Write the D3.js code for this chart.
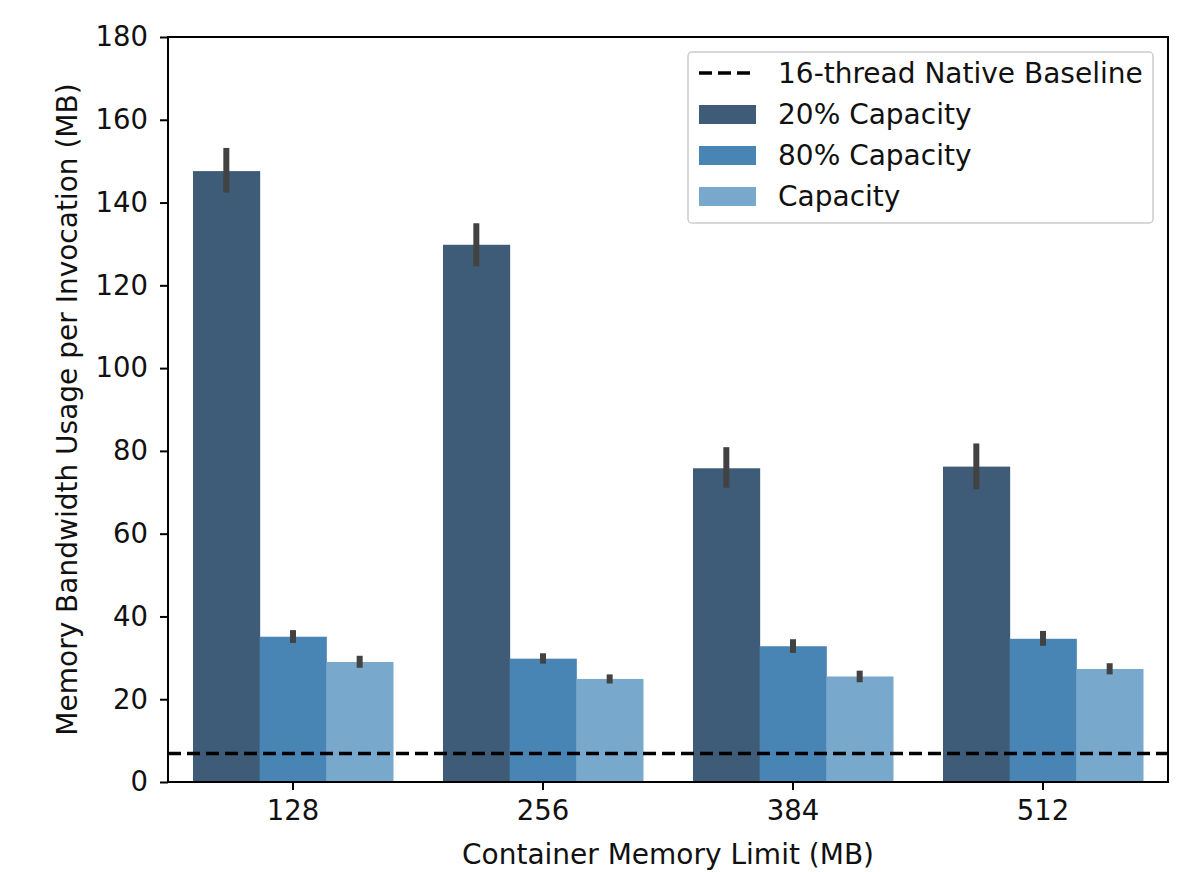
<!DOCTYPE html>
<html lang="en">
  <head>
    <meta charset="UTF-8" />
    <title>Memory Bandwidth Usage</title>
    <script src="https://d3js.org/d3.v7.min.js"></script>
    <style>
      body { margin: 0; background: #fff; font-family: "DejaVu Sans", sans-serif; }
      text { fill: #111; }
    </style>
  </head>
  <body>
    <div id="chart"></div>
    <script>
      const categories = ["128", "256", "384", "512"];
      const seriesNames = ["20% Capacity", "80% Capacity", "Capacity"];
      const seriesColors = ["#3e5c77", "#4885b5", "#79a8cd"];
      // mean values per category, one array per series
      const cap20 = [147.6, 129.8, 75.8, 76.2];
      const cap80 = [35.1, 29.8, 32.8, 34.6];
      const capFull = [29.0, 24.9, 25.5, 27.3];
      // error bar low/high
      const cap20Lo = [142.4, 124.6, 71.1, 70.7];
      const cap20Hi = [153.2, 135.0, 80.9, 81.8];
      const cap80Lo = [33.6, 28.6, 31.2, 32.9];
      const cap80Hi = [36.7, 31.1, 34.5, 36.5];
      const capFullLo = [27.6, 23.8, 24.1, 26.0];
      const capFullHi = [30.5, 26.0, 26.9, 28.7];
      const baseline = 6.9;
      const yTicks = [0, 20, 40, 60, 80, 100, 120, 140, 160, 180];

      const width = 1194, height = 872;
      const margin = { left: 168, right: 26, top: 37, bottom: 90 };
      const fs = 27.5;

      const svg = d3.select("#chart").append("svg")
        .attr("width", width).attr("height", height);

      const x = d3.scaleBand().domain(categories)
        .range([margin.left, width - margin.right]).padding(0);
      const xInner = d3.scaleBand().domain(seriesNames)
        .range([0, x.bandwidth()]).paddingInner(0).paddingOuter(0.375);
      const y = d3.scaleLinear().domain([0, 180])
        .range([height - margin.bottom, margin.top]);

      const series = [
        { name: seriesNames[0], vals: cap20, lo: cap20Lo, hi: cap20Hi, color: seriesColors[0] },
        { name: seriesNames[1], vals: cap80, lo: cap80Lo, hi: cap80Hi, color: seriesColors[1] },
        { name: seriesNames[2], vals: capFull, lo: capFullLo, hi: capFullHi, color: seriesColors[2] }
      ];

      const rows = [];
      series.forEach((s) => {
        categories.forEach((c, i) => {
          rows.push({ cat: c, name: s.name, v: s.vals[i], lo: s.lo[i], hi: s.hi[i], color: s.color });
        });
      });

      svg.append("g").selectAll("rect").data(rows).join("rect")
        .attr("x", (d) => x(d.cat) + xInner(d.name))
        .attr("width", xInner.bandwidth() + 0.5)
        .attr("y", (d) => y(d.v))
        .attr("height", (d) => y(0) - y(d.v))
        .attr("fill", (d) => d.color);

      svg.append("g").selectAll("line").data(rows).join("line")
        .attr("x1", (d) => x(d.cat) + xInner(d.name) + xInner.bandwidth() / 2)
        .attr("x2", (d) => x(d.cat) + xInner(d.name) + xInner.bandwidth() / 2)
        .attr("y1", (d) => y(d.lo))
        .attr("y2", (d) => y(d.hi))
        .attr("stroke", "#424242")
        .attr("stroke-width", 6);

      // baseline
      svg.append("line")
        .attr("x1", margin.left).attr("x2", width - margin.right)
        .attr("y1", y(baseline)).attr("y2", y(baseline))
        .attr("stroke", "#000").attr("stroke-width", 3.5)
        .attr("stroke-dasharray", "13,6");

      // axes
      const yAxis = svg.append("g")
        .attr("transform", `translate(${margin.left},0)`)
        .call(d3.axisLeft(y).tickValues(yTicks).tickSize(8).tickPadding(12));
      const xAxis = svg.append("g")
        .attr("transform", `translate(0,${height - margin.bottom})`)
        .call(d3.axisBottom(x).tickSize(8).tickPadding(10));
      [yAxis, xAxis].forEach((g) => {
        g.select(".domain").remove();
        g.selectAll(".tick line").attr("stroke", "#000").attr("stroke-width", 2);
        g.selectAll(".tick text").attr("font-size", fs)
          .attr("font-family", "DejaVu Sans, sans-serif").attr("fill", "#111");
      });

      // frame
      svg.append("rect")
        .attr("x", margin.left).attr("y", margin.top)
        .attr("width", width - margin.left - margin.right)
        .attr("height", height - margin.top - margin.bottom)
        .attr("fill", "none").attr("stroke", "#000").attr("stroke-width", 2);

      svg.append("text")
        .attr("x", (margin.left + width - margin.right) / 2)
        .attr("y", 864)
        .attr("text-anchor", "middle")
        .attr("font-size", 28)
        .text("Container Memory Limit (MB)");

      svg.append("text")
        .attr("transform", `translate(77,${(margin.top + height - margin.bottom) / 2}) rotate(-90)`)
        .attr("text-anchor", "middle")
        .attr("font-size", 28)
        .text("Memory Bandwidth Usage per Invocation (MB)");

      // legend
      const lg = svg.append("g").attr("transform", "translate(688,52)");
      lg.append("rect").attr("width", 465).attr("height", 171)
        .attr("rx", 4).attr("fill", "#fff").attr("stroke", "#ccc").attr("stroke-width", 1.5);
      const legendItems = [{ name: "16-thread Native Baseline", line: true }]
        .concat(series.map((s) => ({ name: s.name, color: s.color })));
      legendItems.forEach((d, i) => {
        const cy = 21 + i * 41;
        if (d.line) {
          lg.append("line").attr("x1", 11).attr("x2", 68)
            .attr("y1", cy).attr("y2", cy)
            .attr("stroke", "#000").attr("stroke-width", 3.5)
            .attr("stroke-dasharray", "13,6");
        } else {
          lg.append("rect").attr("x", 11).attr("y", cy - 9)
            .attr("width", 57).attr("height", 19).attr("fill", d.color);
        }
        lg.append("text").attr("x", 90).attr("y", cy)
          .attr("dy", "0.35em").attr("font-size", 28).text(d.name);
      });
    </script>
  </body>
</html>
